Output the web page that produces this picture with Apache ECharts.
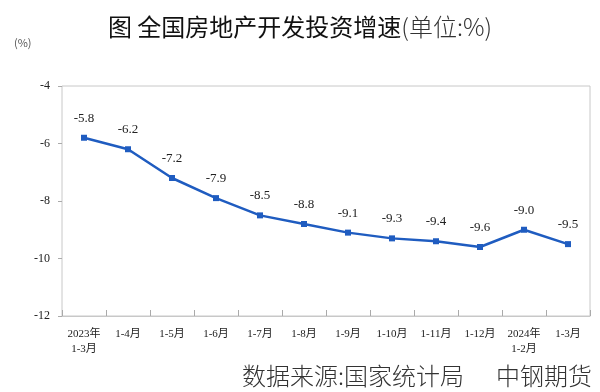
<!DOCTYPE html>
<html><head><meta charset="utf-8">
<script src="https://cdn.jsdelivr.net/npm/echarts@6/dist/echarts.min.js"></script>
<style>html,body{margin:0;padding:0;background:#fff}#c{width:600px;height:392px}</style>
</head><body><div id="c"></div>
<script>
const categories = ['2023年\n1-3月','1-4月','1-5月','1-6月','1-7月','1-8月','1-9月','1-10月','1-11月','1-12月','2024年\n1-2月','1-3月'];
const values = [-5.8,-6.2,-7.2,-7.9,-8.5,-8.8,-9.1,-9.3,-9.4,-9.6,-9.0,-9.5];
const yTicks = [-12,-10,-8,-6,-4];
const titleMain = '图 全国房地产开发投资增速';
const titleUnit = '(单位:%)';
const unitText = '(%)';
const sourceLeft = '数据来源:国家统计局';
const sourceRight = '中钢期货';

const chart = echarts.init(document.getElementById('c'));
chart.setOption({
  animation: false,
  backgroundColor: '#fff',
  title: {
    text: '{a|' + titleMain + '}{b|' + titleUnit + '}', left: 'center', top: 10,
    textStyle: {
      rich: {
        a: {fontFamily: 'Noto Sans CJK SC', fontSize: 24, fontWeight: 'normal', color: '#111'},
        b: {fontFamily: 'Noto Sans CJK SC', fontSize: 24, fontWeight: 300, color: '#333'}
      }
    }
  },
  grid: {left: 62, right: 10, top: 86, bottom: 76, show: true, borderColor: '#c8c8c8', borderWidth: 1},
  xAxis: {
    type: 'category', data: categories, boundaryGap: true,
    axisLine: {show: true, lineStyle: {color: '#c8c8c8'}},
    axisTick: {show: true, inside: true, length: 6, interval: 0, lineStyle: {color: '#aaa'}},
    axisLabel: {interval: 0, fontFamily: 'Liberation Serif, Noto Sans CJK SC', fontSize: 11, color: '#222', margin: 11, lineHeight: 15}
  },
  yAxis: {
    type: 'value', min: yTicks[0], max: yTicks[yTicks.length-1], interval: 2,
    axisLine: {show: false},
    axisTick: {show: true, length: 4, lineStyle: {color: '#aaa'}},
    splitLine: {show: false},
    axisLabel: {fontFamily: 'Liberation Serif', fontSize: 12, color: '#222', margin: 12}
  },
  graphic: [
    {type: 'text', left: 14, top: 37, style: {text: unitText, fontFamily: 'Noto Sans CJK SC', fontSize: 11, fill: '#555'}},
    {type: 'text', left: 242, top: 364, style: {text: sourceLeft, fontFamily: 'Noto Sans CJK SC', fontWeight: 300, fontSize: 24, fill: '#333'}},
    {type: 'text', right: 8, top: 364, style: {text: sourceRight, fontFamily: 'Noto Sans CJK SC', fontWeight: 300, fontSize: 24, fill: '#333'}}
  ],
  series: [{
    type: 'line', data: values,
    symbol: 'rect', symbolSize: 6,
    lineStyle: {color: '#1f5cc0', width: 2.5},
    itemStyle: {color: '#1f5cc0'},
    label: {show: true, position: 'top', distance: 10, fontFamily: 'Liberation Serif', fontSize: 13, color: '#222',
      formatter: p => p.value.toFixed(1)}
  }]
});
</script></body></html>
